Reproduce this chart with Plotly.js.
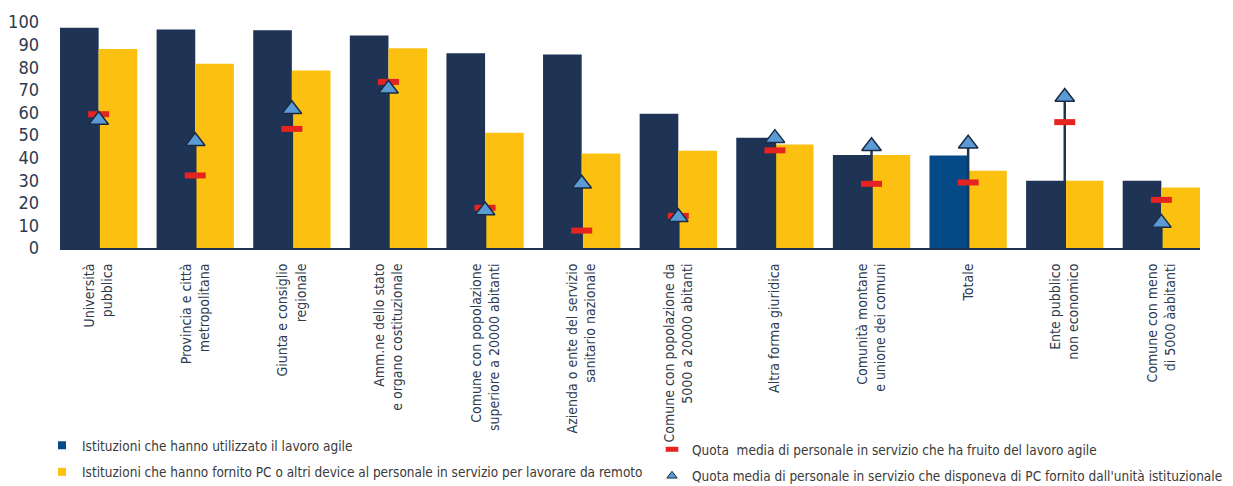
<!DOCTYPE html>
<html>
<head>
<meta charset="utf-8">
<script src="https://cdn.plot.ly/plotly-3.0.1.min.js"></script>
<style>html,body{margin:0;padding:0;background:#fff;}#chart{width:1233px;height:486px;}</style>
</head>
<body>
<div id="chart"></div>
<script>
const categories = [
  "Università<br>pubblica",
  "Provincia e città<br>metropolitana",
  "Giunta e consiglio<br>regionale",
  "Amm.ne dello stato<br>e organo costituzionale",
  "Comune con popolazione<br>superiore a 20000 abitanti",
  "Azienda o ente del servizio<br>sanitario nazionale",
  "Comune con popolazione da<br>5000 a 20000 abitanti",
  "Altra forma giuridica",
  "Comunità montane<br>e unione dei comuni",
  "Totale",
  "Ente pubblico<br>non economico",
  "Comune con meno<br>di 5000 àabitanti"
];
const usedAgile  = [97.5, 96.7, 96.3, 94.0, 86.2, 85.6, 59.4, 48.8, 41.2, 40.9, 29.8, 29.8];
const providedPC = [88.0, 81.5, 78.5, 88.4, 51.0, 41.8, 43.0, 45.8, 41.2, 34.2, 29.8, 26.8];
const shareAgile = [59.2, 32.1, 52.7, 73.5, 17.8, 7.7, 14.2, 43.2, 28.4, 29.0, 55.7, 21.3];
const sharePC    = [56.6, 47.2, 61.4, 70.5, 16.6, 28.4, 13.6, 48.6, 45.0, 46.1, 66.8, 11.1];
const yTicks = [0, 10, 20, 30, 40, 50, 60, 70, 80, 90, 100];

const names = [
  "Istituzioni che hanno utilizzato il lavoro agile",
  "Istituzioni che hanno fornito PC o altri device al personale in servizio per lavorare da remoto",
  "Quota  media di personale in servizio che ha fruito del lavoro agile",
  "Quota media di personale in servizio che disponeva di PC fornito dall'unità istituzionale"
];

const NAVY = '#1f3354', TOT = '#034a87', YEL = '#fbc010', RED = '#e52421', TRI = '#5b9bd5';
const FONT = "'Liberation Sans Narrow', 'DejaVu Sans Condensed', 'Roboto', sans-serif";

const traces = [
  {type:'bar', x:categories, y:usedAgile, name:names[0], showlegend:false,
   marker:{color:categories.map(c => c === 'Totale' ? TOT : NAVY)}},
  {type:'bar', x:categories, y:providedPC, name:names[1], showlegend:false,
   marker:{color:YEL}},
  {type:'scatter', mode:'lines', x:categories.flatMap(c => [c, c, null]),
   y:sharePC.flatMap(v => [0, v, null]), showlegend:false,
   line:{color:NAVY, width:2.5}},
  {type:'scatter', mode:'markers', x:categories, y:shareAgile, name:names[2], showlegend:false,
   marker:{symbol:'line-ew', size:15, line:{color:RED, width:6}}},
  {type:'scatter', mode:'markers', x:categories, y:sharePC, name:names[3], showlegend:false,
   marker:{symbol:'triangle-up', size:17, color:TRI, line:{color:'#1a2b45', width:1.5}}},
  // legend entries
  {type:'scatter', mode:'markers', x:[null], y:[null], name:names[0], legend:'legend', legendgroup:'a',
   marker:{symbol:'square', size:8, color:TOT}},
  {type:'scatter', mode:'markers', x:[null], y:[null], name:names[1], legend:'legend', legendgroup:'b',
   marker:{symbol:'square', size:8, color:YEL}},
  {type:'scatter', mode:'markers', x:[null], y:[null], name:names[2], legend:'legend2', legendgroup:'c',
   marker:{symbol:'line-ew', size:9, line:{color:RED, width:5}}},
  {type:'scatter', mode:'markers', x:[null], y:[null], name:names[3], legend:'legend2', legendgroup:'d',
   marker:{symbol:'triangle-up', size:9, color:TRI, line:{color:'#1a2b45', width:1}}}
];

const layout = {
  width:1233, height:486,
  margin:{l:60, r:33, t:22, b:238, autoexpand:false},
  paper_bgcolor:'#fff', plot_bgcolor:'#fff',
  barmode:'group', bargap:0.2, bargroupgap:0,
  font:{family:FONT, color:'#2e3a4f'},
  xaxis:{type:'category', range:[-0.4, 11.4], showline:true, linecolor:NAVY, linewidth:2,
         showgrid:false, ticks:'', tickangle:-90, ticklabelstandoff:8,
         tickfont:{family:FONT, size:14, color:'#2e3a4f'}},
  yaxis:{range:[0, 100], tickvals:yTicks, showgrid:false, zeroline:false, showline:false,
         ticks:'', ticklabelstandoff:20, tickfont:{family:FONT, size:18, color:'#2e3a4f'}},
  legend:{xref:'paper', yref:'paper', x:(42-60)/1140, y:(248-430)/226, xanchor:'left', yanchor:'top',
          traceorder:'grouped', tracegroupgap:6, bgcolor:'rgba(0,0,0,0)',
          font:{family:FONT, size:13.5, color:'#3a3a3a'}},
  legend2:{xref:'paper', yref:'paper', x:(652-60)/1140, y:(248-434)/226, xanchor:'left', yanchor:'top',
          traceorder:'grouped', tracegroupgap:6, bgcolor:'rgba(0,0,0,0)',
          font:{family:FONT, size:13.5, color:'#3a3a3a'}},
  showlegend:true
};

Plotly.newPlot('chart', traces, layout, {displayModeBar:false, staticPlot:true});
</script>
</body>
</html>
